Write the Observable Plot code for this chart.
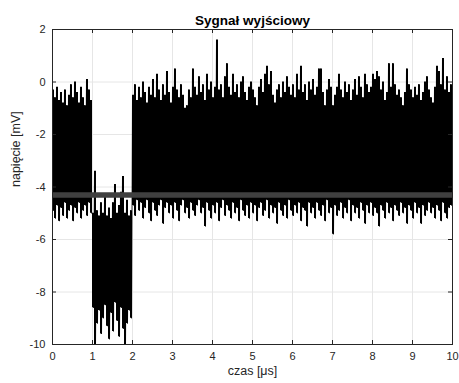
<!DOCTYPE html>
<html>
<head>
<meta charset="utf-8">
<script src="https://cdn.jsdelivr.net/npm/d3@7"></script>
<script src="https://cdn.jsdelivr.net/npm/@observablehq/plot@0.6"></script>
<style>
  html, body { margin: 0; padding: 0; background: #fff; }
</style>
</head>
<body>
<div id="chart"></div>
<script>
// ---- data ----
const titleText = "Sygnał wyjściowy";
const xLabel = "czas [μs]";
const yLabel = "napięcie [mV]";
const xTicks = [0, 1, 2, 3, 4, 5, 6, 7, 8, 9, 10];
const yTicks = [-10, -8, -6, -4, -2, 0, 2];
const sampleStep = 0.05; // μs between envelope readings
// upper extreme of the signal in each 0.05 μs slot (mV)
const hi = [
  -0.3,-0.6,-0.2,-0.7,-0.4,-0.8,-0.3,-0.9,-0.5,-0.1,-0.6,0.0,-0.4,-0.8,-0.2,-0.6,-0.9,0.1,-0.3,-0.7,
  -5.0,-3.4,-4.9,-5.1,-4.6,-5.0,-4.4,-5.1,-4.8,-5.2,-4.6,-3.9,-5.0,-4.7,-4.2,-3.6,-5.0,-4.5,-5.1,-4.9,
  -0.5,-0.1,-0.7,-0.2,-0.6,0.0,-0.4,-0.8,-0.2,-0.5,0.1,-0.6,0.3,-0.3,-0.7,-0.1,-0.5,0.4,-0.4,-0.8,
  -0.2,0.5,-0.3,-0.6,-0.1,-0.5,-1.0,-0.9,-0.3,-0.6,0.5,-0.2,-0.5,0.2,-0.4,-0.1,-0.7,0.3,-0.3,0.0,
  -0.6,-0.2,1.6,-0.3,-0.1,-0.6,0.2,0.7,-0.2,-0.5,0.3,-0.4,-0.1,-0.6,0.0,0.2,-0.4,-0.7,-0.2,0.0,
  -0.3,-0.6,-0.9,-0.2,0.1,-0.4,0.3,0.6,-0.1,0.4,-0.5,-0.8,-0.3,-0.1,-0.6,0.0,-0.4,0.2,-0.2,-0.5,
  -0.1,-0.6,0.3,-0.3,0.6,-0.4,-0.1,-0.7,0.0,-0.3,0.1,-0.5,-0.2,0.5,0.5,-0.4,-0.9,-0.3,0.1,-0.2,
  -0.9,-0.5,-0.2,0.3,-0.3,-0.6,0.0,-0.4,-0.1,-0.7,-0.3,0.1,-0.5,0.2,-0.2,-0.6,0.3,-0.1,-0.4,-0.2,
  0.3,0.1,0.4,0.2,-0.3,0.0,-0.7,-0.4,0.7,-0.2,0.7,-0.1,-0.5,-0.3,-0.6,-0.9,-0.4,0.5,-0.1,-0.3,
  -0.6,-0.2,-0.5,-0.1,-0.7,-0.4,0.0,0.2,-0.3,-0.6,-0.8,-0.2,0.6,0.4,-0.1,0.9,-0.3,0.2,-0.4,-0.1
];
// lower extreme of the signal in each 0.05 μs slot (mV)
const lo = [
  -4.9,-5.2,-4.7,-5.3,-4.8,-5.1,-4.6,-5.2,-4.9,-4.7,-5.3,-4.8,-5.0,-4.6,-5.2,-4.9,-4.7,-5.1,-4.6,-5.0,
  -8.6,-10.0,-9.2,-8.7,-9.6,-9.0,-8.5,-9.3,-9.8,-8.8,-9.5,-8.4,-9.1,-9.7,-8.6,-9.4,-10.0,-9.2,-8.7,-9.0,
  -4.7,-5.1,-4.5,-4.9,-4.6,-5.2,-4.8,-4.5,-5.0,-5.3,-4.6,-4.9,-5.1,-4.7,-4.5,-5.4,-4.8,-4.6,-5.0,-4.7,
  -5.2,-4.6,-4.9,-5.3,-4.7,-4.5,-5.0,-4.8,-5.2,-4.6,-4.9,-5.1,-4.7,-4.5,-5.0,-4.8,-5.5,-4.6,-4.9,-5.2,
  -4.7,-5.0,-4.6,-5.3,-4.8,-4.5,-5.1,-4.7,-4.9,-5.2,-4.6,-5.0,-4.8,-5.3,-4.5,-4.9,-5.1,-4.7,-5.2,-4.6,
  -5.0,-4.7,-5.3,-4.8,-4.6,-5.1,-4.9,-4.5,-5.2,-4.7,-5.0,-4.8,-5.4,-4.6,-4.9,-5.1,-4.7,-5.2,-4.5,-4.9,
  -5.1,-4.7,-5.0,-4.6,-5.3,-4.8,-4.9,-5.5,-4.6,-5.0,-4.8,-5.2,-4.6,-4.9,-5.1,-4.7,-5.3,-4.5,-5.0,-4.8,
  -5.8,-4.7,-5.1,-4.9,-4.6,-5.2,-4.8,-5.0,-4.5,-5.3,-4.7,-5.0,-4.8,-5.2,-4.6,-4.9,-5.4,-4.7,-5.0,-4.6,
  -5.1,-4.8,-5.0,-5.5,-4.7,-4.9,-5.2,-4.6,-5.0,-4.8,-5.3,-4.7,-4.9,-5.1,-4.6,-5.0,-4.8,-5.4,-4.7,-4.9,
  -5.2,-4.6,-5.0,-4.8,-5.4,-4.7,-5.1,-4.9,-4.6,-5.0,-4.8,-5.2,-4.7,-4.9,-5.3,-4.6,-5.0,-5.2,-4.8,-4.7
];
const refLevel = [-4.3]; // thick grey reference line (mV)

// ---- tables built from the arrays ----
// one slot per reading: the signal fills the span between its lower and upper extreme
const slots = hi.map((h, i) => ({t: i * sampleStep, hi: h, lo: lo[i]}));
slots.push({t: hi.length * sampleStep, hi: hi[hi.length - 1], lo: lo[lo.length - 1]});
// the trace swings from the upper to the lower extreme within each slot
const signal = [];
hi.forEach((h, i) => {
  signal.push({t: i * sampleStep, v: h});
  signal.push({t: i * sampleStep + sampleStep / 2, v: lo[i]});
});

const W = 459, H = 383;
const mL = 52, mR = 7, mT = 29, mB = 39;
const tickLen = 4;
const innerW = W - mL - mR, innerH = H - mT - mB;
const axisColor = "#262626";
const gridColor = "#e6e6e6";
const fmt = d => String(d);

const chart = Plot.plot({
  width: W,
  height: H,
  marginLeft: mL,
  marginRight: mR,
  marginTop: mT,
  marginBottom: mB,
  x: {domain: [0, 10], ticks: xTicks},
  y: {domain: [-10, 2], ticks: yTicks},
  style: {
    fontFamily: "'Liberation Sans', Arial, Helvetica, sans-serif",
    fontSize: "11px",
    color: axisColor,
    background: "#ffffff"
  },
  marks: [
    Plot.gridX(xTicks, {stroke: gridColor, strokeOpacity: 1, strokeWidth: 1}),
    Plot.gridY(yTicks, {stroke: gridColor, strokeOpacity: 1, strokeWidth: 1}),
    Plot.areaY(slots, {x: "t", y1: "lo", y2: "hi", curve: "step-after", fill: "#000000", clip: true}),
    Plot.line(signal, {x: "t", y: "v", stroke: "#000000", strokeWidth: 0.8, clip: true}),
    Plot.ruleY(refLevel, {stroke: "#404040", strokeWidth: 5.5}),
    Plot.frame({stroke: axisColor, strokeWidth: 1}),
    // inward tick marks on all four sides
    Plot.ruleX(xTicks, {x: d => d, insetTop: innerH - tickLen, stroke: axisColor}),
    Plot.ruleX(xTicks, {x: d => d, insetBottom: innerH - tickLen, stroke: axisColor}),
    Plot.ruleY(yTicks, {y: d => d, insetRight: innerW - tickLen, stroke: axisColor}),
    Plot.ruleY(yTicks, {y: d => d, insetLeft: innerW - tickLen, stroke: axisColor}),
    Plot.axisX(xTicks, {anchor: "bottom", tickSize: 0, tickPadding: 8, label: null, tickFormat: fmt, fill: axisColor, fontSize: 11}),
    Plot.axisY(yTicks, {anchor: "left", tickSize: 0, tickPadding: 7, label: null, tickFormat: fmt, fill: axisColor, fontSize: 11}),
    Plot.text([titleText], {frameAnchor: "top", lineAnchor: "bottom", dy: -5, fontWeight: "bold", fontSize: 13.5, fill: "#000000"}),
    Plot.text([xLabel], {frameAnchor: "bottom", lineAnchor: "top", dy: 22, fontSize: 12.5, fill: axisColor}),
    Plot.text([yLabel], {frameAnchor: "left", rotate: -90, dx: -37, fontSize: 12.5, fill: axisColor})
  ]
});
document.getElementById("chart").appendChild(chart);
</script>
</body>
</html>
